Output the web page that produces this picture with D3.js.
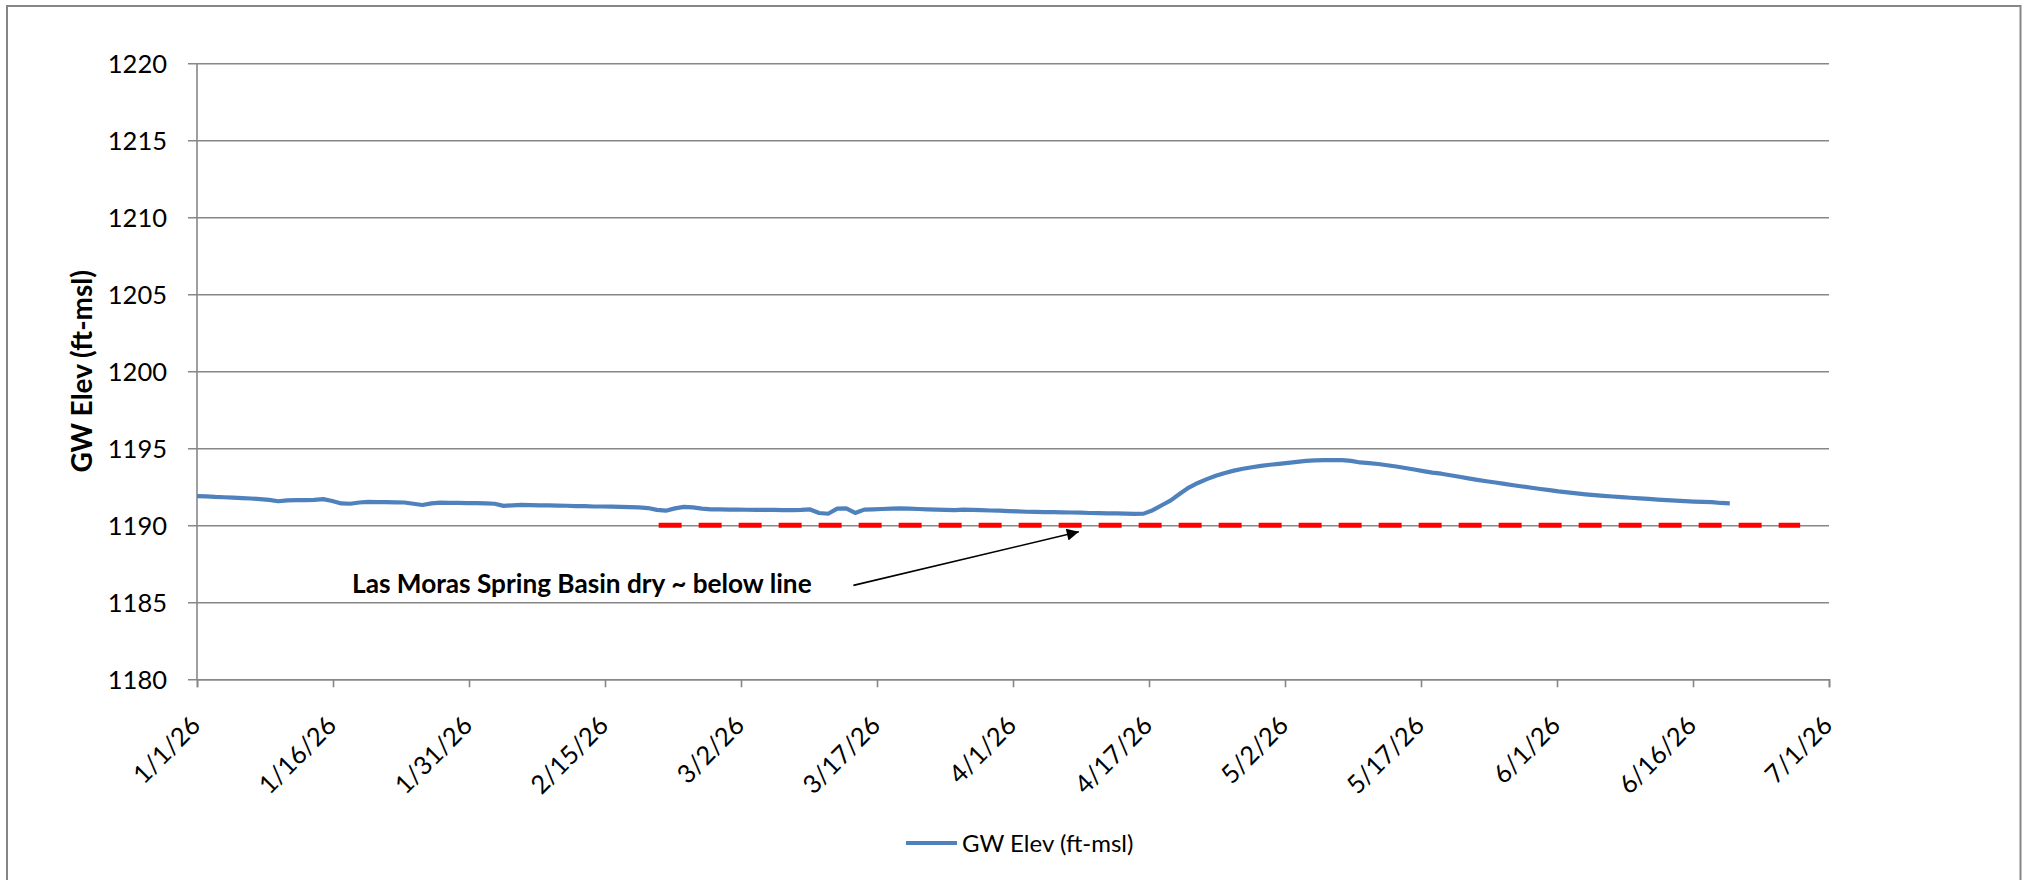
<!DOCTYPE html>
<html><head><meta charset="utf-8">
<script src="https://cdn.jsdelivr.net/npm/d3@7"></script>
<style>body{margin:0;background:#fff}svg{display:block}</style>
</head><body>
<svg id="chart" width="2023" height="880"></svg>
<script>
// ---- data ----
const seriesName = "GW Elev (ft-msl)";
const yAxisTitle = "GW Elev (ft-msl)";
const dayOffsets = d3.range(0, 171); // days after 1/1/26
const gwElev = [
1191.90,1191.88,1191.84,1191.82,1191.80,1191.77,1191.74,1191.70,1191.65,1191.56,
1191.62,1191.63,1191.64,1191.65,1191.70,1191.58,1191.42,1191.40,1191.48,1191.52,
1191.50,1191.50,1191.49,1191.48,1191.40,1191.32,1191.42,1191.47,1191.46,1191.45,
1191.44,1191.44,1191.43,1191.40,1191.26,1191.30,1191.32,1191.31,1191.30,1191.29,
1191.28,1191.27,1191.25,1191.24,1191.22,1191.22,1191.21,1191.20,1191.18,1191.16,
1191.12,1191.00,1190.95,1191.10,1191.20,1191.16,1191.08,1191.04,1191.03,1191.02,
1191.02,1191.01,1191.00,1191.00,1191.00,1190.99,1190.99,1191.00,1191.03,1190.80,
1190.75,1191.08,1191.10,1190.80,1191.02,1191.04,1191.06,1191.08,1191.10,1191.08,
1191.06,1191.04,1191.02,1191.00,1190.98,1191.02,1191.00,1190.98,1190.96,1190.95,
1190.92,1190.90,1190.88,1190.87,1190.85,1190.85,1190.84,1190.83,1190.82,1190.80,
1190.79,1190.78,1190.77,1190.76,1190.74,1190.76,1190.98,1191.30,1191.62,1192.05,
1192.45,1192.75,1193.00,1193.22,1193.40,1193.55,1193.67,1193.77,1193.86,1193.93,
1193.99,1194.05,1194.12,1194.18,1194.21,1194.23,1194.24,1194.23,1194.18,1194.08,
1194.04,1193.98,1193.90,1193.82,1193.72,1193.62,1193.52,1193.42,1193.35,1193.25,
1193.15,1193.05,1192.95,1192.86,1192.78,1192.69,1192.60,1192.52,1192.44,1192.36,
1192.28,1192.20,1192.14,1192.07,1192.01,1191.96,1191.91,1191.87,1191.83,1191.79,
1191.75,1191.71,1191.67,1191.64,1191.60,1191.57,1191.54,1191.52,1191.50,1191.45,
1191.43
];
const yTicks = [1180,1185,1190,1195,1200,1205,1210,1215,1220];
const xTickLabels = ["1/1/26","1/16/26","1/31/26","2/15/26","3/2/26","3/17/26","4/1/26","4/17/26","5/2/26","5/17/26","6/1/26","6/16/26","7/1/26"];
const xDomainStart = "2026-01-01", xDomainEnd = "2026-07-01";
const basinDryLevel = 1190;
const basinDryDays = [51.2, 177.8];
const annotationText = "Las Moras Spring Basin dry ~ below line";
const annotationTextAt = [17.2, 1185.6];        // [day, elev] baseline start
const arrowFrom = [72.8, 1186.1], arrowTo = [97.8, 1189.58];

// ---- layout ----
const W = 2023, H = 880;
const plot = {left: 197, right: 1829, top: 63.3, bottom: 679.3};
const FONT = "Lato, 'Open Sans', sans-serif";
const svg = d3.select("#chart");
const t0 = new Date(xDomainStart + "T00:00:00Z"), t1 = new Date(xDomainEnd + "T00:00:00Z");
const dayToDate = d => new Date(t0.getTime() + d * 864e5);
const x = d3.scaleUtc().domain([t0, t1]).range([plot.left, plot.right]);
const y = d3.scaleLinear().domain([1180, 1220]).range([plot.bottom, plot.top]);
const gridColor = "#878787";

// chart border
svg.append("rect").attr("x", 7).attr("y", 6).attr("width", W - 7 - 2.5).attr("height", H + 20)
  .attr("fill", "#fff").attr("stroke", "#868686").attr("stroke-width", 2);

// horizontal gridlines + y axis
const yAxis = d3.axisLeft(y).tickValues(yTicks).tickSize(plot.right - plot.left + 9).tickPadding(0).tickFormat("");
const gy = svg.append("g").attr("transform", `translate(${plot.right},0)`).call(yAxis);
gy.select(".domain").remove();
gy.selectAll(".tick line").attr("stroke", gridColor).attr("stroke-width", 1.6);
svg.append("line").attr("x1", plot.left).attr("x2", plot.left).attr("y1", plot.top).attr("y2", plot.bottom)
  .attr("stroke", gridColor).attr("stroke-width", 1.6);

// y tick labels
svg.append("g").selectAll("text").data(yTicks).join("text")
  .attr("x", 167).attr("y", d => y(d) + 10).attr("text-anchor", "end")
  .attr("font-family", FONT).attr("font-size", 25.5).attr("fill", "#000").text(d => d);

// x axis
const xTicks = d3.range(xTickLabels.length).map(k => new Date(t0.getTime() + k * (t1 - t0) / (xTickLabels.length - 1)));
const xAxis = d3.axisBottom(x).tickValues(xTicks).tickSize(8).tickFormat("");
const gx = svg.append("g").attr("transform", `translate(0,${plot.bottom})`).call(xAxis);
gx.select(".domain").attr("stroke", gridColor).attr("stroke-width", 1.6);
gx.selectAll(".tick line").attr("stroke", gridColor).attr("stroke-width", 1.6);
svg.append("g").selectAll("text").data(xTicks).join("text")
  .attr("transform", d => `translate(${x(d) + 5},727) rotate(-45)`)
  .attr("text-anchor", "end").attr("font-family", FONT).attr("font-size", 25.5).attr("fill", "#000")
  .text((d, i) => xTickLabels[i]);

// y axis title
svg.append("text").attr("transform", `translate(92,${(plot.top + plot.bottom) / 2}) rotate(-90)`)
  .attr("text-anchor", "middle").attr("font-family", FONT).attr("font-weight", "bold")
  .attr("font-size", 28).attr("fill", "#000").text(yAxisTitle);

// basin-dry reference line
svg.append("line")
  .attr("x1", x(dayToDate(basinDryDays[0]))).attr("x2", x(dayToDate(basinDryDays[1])))
  .attr("y1", y(basinDryLevel)).attr("y2", y(basinDryLevel))
  .attr("stroke", "#FF0000").attr("stroke-width", 5).attr("stroke-dasharray", "23,17");

// GW series
const pts = dayOffsets.map((d, i) => [dayToDate(d), gwElev[i]]);
svg.append("path").datum(pts)
  .attr("d", d3.line().x(d => x(d[0])).y(d => y(d[1])))
  .attr("fill", "none").attr("stroke", "#4F81BD").attr("stroke-width", 4.2).attr("stroke-linejoin", "round");

// annotation
svg.append("text").attr("x", x(dayToDate(annotationTextAt[0]))).attr("y", y(annotationTextAt[1]))
  .attr("font-family", FONT).attr("font-weight", "bold").attr("font-size", 26.2).attr("fill", "#000")
  .text(annotationText);
svg.append("defs").append("marker").attr("id", "ah").attr("viewBox", "0 0 10 10")
  .attr("refX", 10).attr("refY", 5).attr("markerUnits", "userSpaceOnUse")
  .attr("markerWidth", 16).attr("markerHeight", 12).attr("orient", "auto")
  .append("path").attr("d", "M0,0 L10,5 L0,10 Z").attr("fill", "#000");
svg.append("line")
  .attr("x1", x(dayToDate(arrowFrom[0]))).attr("y1", y(arrowFrom[1]))
  .attr("x2", x(dayToDate(arrowTo[0]))).attr("y2", y(arrowTo[1]))
  .attr("stroke", "#000").attr("stroke-width", 1.6).attr("marker-end", "url(#ah)");

// legend
svg.append("line").attr("x1", 906).attr("x2", 957).attr("y1", 843).attr("y2", 843)
  .attr("stroke", "#4F81BD").attr("stroke-width", 4);
svg.append("text").attr("x", 962).attr("y", 852).attr("font-family", FONT).attr("font-size", 24)
  .attr("fill", "#000").text(seriesName);
</script>
</body></html>
